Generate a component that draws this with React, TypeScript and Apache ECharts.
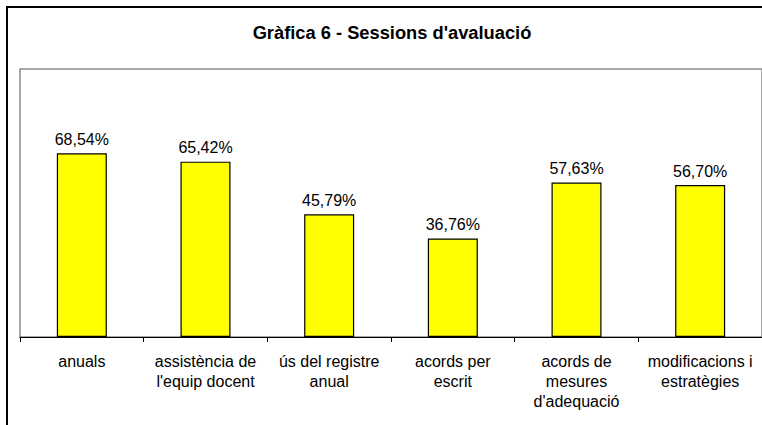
import React, { useEffect, useRef } from "react";
import * as echarts from "echarts";

const categories = [
  "anuals",
  "assistència de\nl'equip docent",
  "ús del registre\nanual",
  "acords per\nescrit",
  "acords de\nmesures\nd'adequació",
  "modificacions i\nestratègies",
];
const values = [68.54, 65.42, 45.79, 36.76, 57.63, 56.7];
const titleText = "Gràfica 6 - Sessions d'avaluació";

const FONT = "'Liberation Sans', Arial, sans-serif";

export default function App() {
  const ref = useRef<HTMLDivElement>(null);
  useEffect(() => {
    if (!ref.current) return;
    const chart = echarts.init(ref.current, null, { renderer: "svg" });
    chart.setOption({
      animation: false,
      backgroundColor: "#ffffff",
      textStyle: { fontFamily: FONT },
      graphic: [
        {
          type: "rect",
          shape: { x: 7, y: 7, width: 800, height: 500 },
          style: { fill: "none", stroke: "#000", lineWidth: 2 },
          z: 10,
        },
        {
          type: "text",
          style: {
            text: titleText,
            x: 392,
            y: 32,
            align: "center",
            verticalAlign: "middle",
            fontSize: 18.3,
            fontWeight: "bold",
            fontFamily: FONT,
            fill: "#000",
          },
        },
      ],
      grid: {
        left: 20,
        top: 69,
        width: 744,
        height: 268,
        show: true,
        borderColor: "#8c8c8c",
        borderWidth: 1.5,
        backgroundColor: "transparent",
      },
      xAxis: {
        type: "category",
        data: categories,
        boundaryGap: true,
        axisLine: { show: true, lineStyle: { color: "#000", width: 1 } },
        axisTick: { show: true, length: 5, alignWithLabel: false, lineStyle: { color: "#000" } },
        axisLabel: {
          interval: 0,
          fontSize: 16,
          lineHeight: 20,
          color: "#000",
          margin: 14,
          fontFamily: FONT,
        },
        splitLine: { show: false },
      },
      yAxis: {
        type: "value",
        min: 0,
        max: 100,
        show: false,
        splitLine: { show: false },
      },
      series: [
        {
          type: "bar",
          data: values,
          barWidth: 50,
          itemStyle: { color: "#ffff00", borderColor: "#000", borderWidth: 1.2 },
          label: {
            show: true,
            position: "top",
            distance: 6,
            fontSize: 16,
            color: "#000",
            fontFamily: FONT,
            formatter: (p: any) => p.value.toFixed(2).replace(".", ",") + "%",
          },
        },
      ],
    });
    return () => chart.dispose();
  }, []);
  return (
    <div
      ref={ref}
      style={{ position: "fixed", left: 0, top: 0, width: 762, height: 425, background: "#fff" }}
    />
  );
}
